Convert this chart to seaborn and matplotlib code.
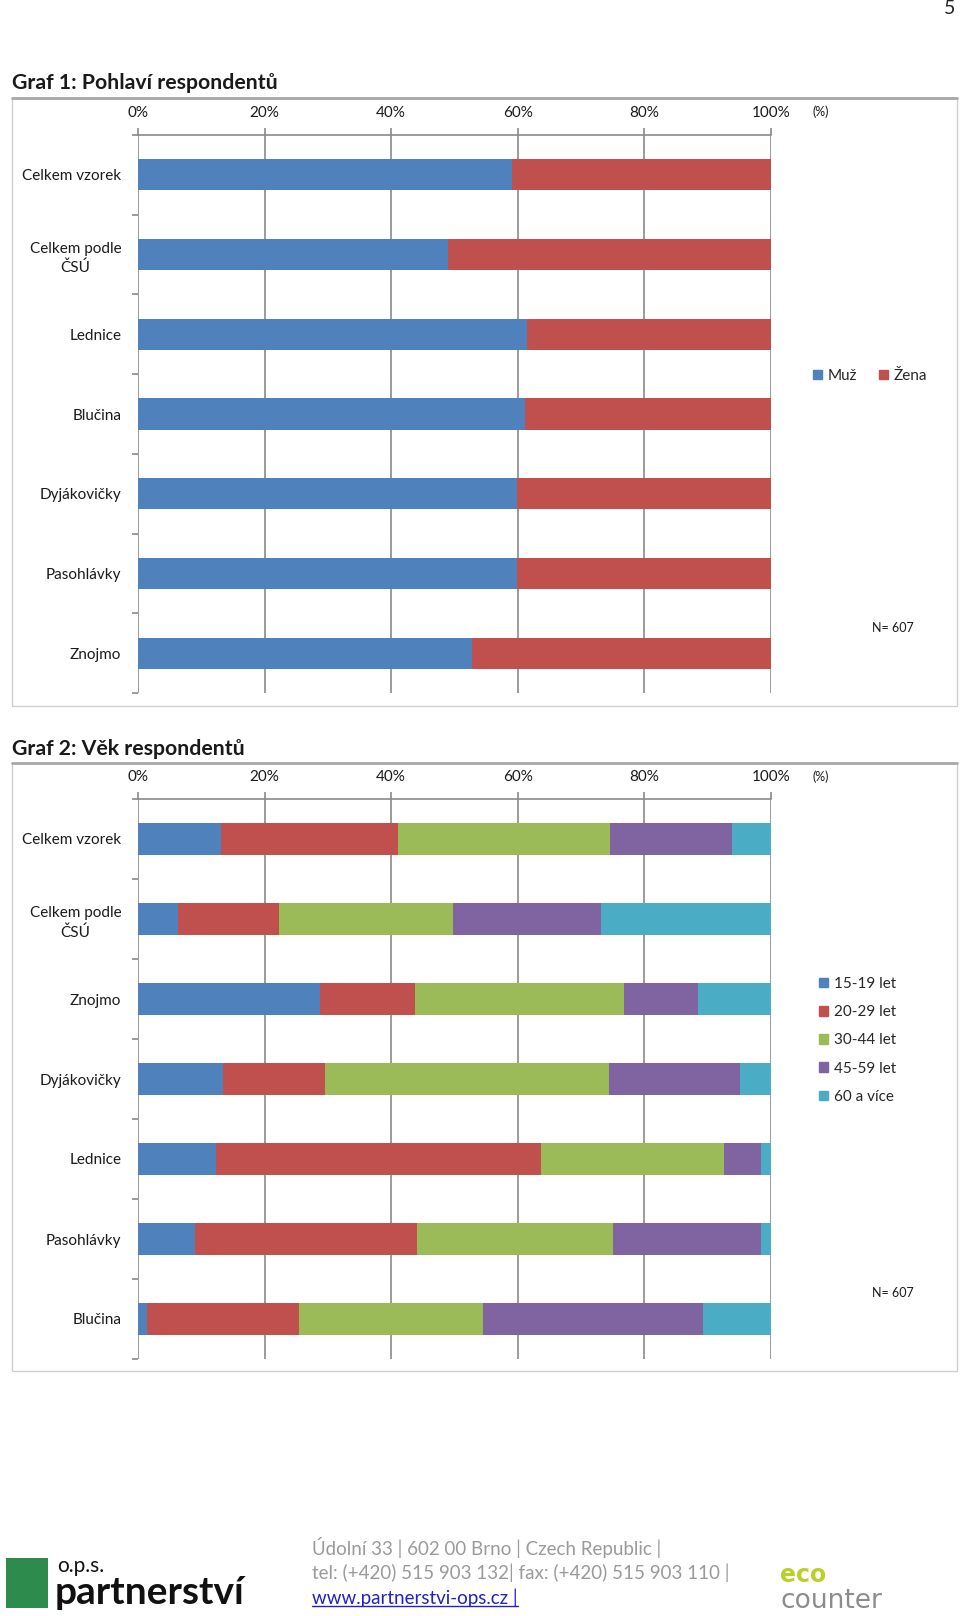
import matplotlib
matplotlib.use("Agg")
import matplotlib.pyplot as plt
import seaborn as sns
import pandas as pd
import numpy as np
from matplotlib.patches import Patch, Rectangle
from matplotlib.lines import Line2D
from matplotlib.ticker import FixedLocator

sns.set_theme(style="white")
plt.rcParams["font.family"] = ["Lato", "DejaVu Sans"]

# ---------------- data ----------------
gender_categories = ["Celkem vzorek", "Celkem podle\nČSÚ", "Lednice", "Blučina",
                     "Dyjákovičky", "Pasohlávky", "Znojmo"]
gender_series = ["Muž", "Žena"]
muz = [59.1, 48.9, 61.5, 61.1, 59.9, 59.9, 52.8]
zena = [40.9, 51.1, 38.5, 38.9, 40.1, 40.1, 47.2]

age_categories = ["Celkem vzorek", "Celkem podle\nČSÚ", "Znojmo", "Dyjákovičky",
                  "Lednice", "Pasohlávky", "Blučina"]
age_series = ["15-19 let", "20-29 let", "30-44 let", "45-59 let", "60 a více"]
age_15_19 = [13.1, 6.3, 28.8, 13.4, 12.4, 9.0, 1.5]
age_20_29 = [28.0, 15.9, 14.9, 16.1, 51.2, 35.1, 24.0]
age_30_44 = [33.4, 27.5, 33.1, 44.9, 29.0, 30.9, 29.0]
age_45_59 = [19.4, 23.4, 11.6, 20.7, 5.8, 23.4, 34.7]
age_60_plus = [6.1, 26.9, 11.6, 4.9, 1.6, 1.6, 10.8]

x_ticks = [0, 20, 40, 60, 80, 100]
x_tick_labels = ["0%", "20%", "40%", "60%", "80%", "100%"]

gender_colors = ["#4F81BD", "#C0504D"]
age_colors = ["#4F81BD", "#C0504D", "#9BBB59", "#8064A2", "#4BACC6"]

GRID = "#8a8a8a"
W, H = 960, 1616


def fx(x):
    return x / W


def fy(y):
    return 1 - y / H


fig = plt.figure(figsize=(W / 100, H / 100), dpi=100)
fig.patch.set_facecolor("white")


def stacked_chart(top, bottom, cats, names, vals, colors):
    ax = fig.add_axes([fx(138), fy(bottom), fx(771) - fx(138), (bottom - top) / H])
    df = pd.DataFrame({n: v for n, v in zip(names, vals)})
    df["cat"] = cats
    cum = df[names].cumsum(axis=1)
    for n, c in reversed(list(zip(names, colors))):
        sns.barplot(x=cum[n].values, y=df["cat"], orient="h", color=c,
                    saturation=1, width=0.39, linewidth=0, ax=ax, zorder=3)
    ax.set_xlim(0, 100)
    ax.set_ylim(len(cats) - 0.5, -0.5)
    ax.set_xlabel("")
    ax.set_ylabel("")
    ax.xaxis.tick_top()
    ax.set_xticks(x_ticks)
    ax.set_xticklabels(x_tick_labels)
    ax.grid(axis="x", color=GRID, lw=1.2, zorder=0)
    ax.grid(axis="y", visible=False)
    ax.set_axisbelow(True)
    for s in ["left", "right", "bottom"]:
        ax.spines[s].set_visible(False)
    ax.spines["top"].set_color(GRID)
    ax.spines["top"].set_linewidth(1.2)
    ax.yaxis.set_minor_locator(FixedLocator(np.arange(-0.5, len(cats), 1)))
    ax.tick_params(axis="y", which="major", length=0, pad=12, labelsize=11,
                   labelcolor="#1a1a1a")
    ax.tick_params(axis="y", which="minor", left=True, length=4, width=1.2,
                   color=GRID)
    ax.tick_params(axis="x", which="major", top=True, bottom=False, length=5,
                   width=1.2, color=GRID, pad=6, labelsize=11,
                   labelcolor="#1a1a1a")
    for lbl in ax.get_yticklabels():
        lbl.set_multialignment("center")
        lbl.set_linespacing(1.45)
    ax.set_facecolor("none")
    return ax


def frame(top, bottom):
    fig.patches.append(Rectangle((fx(12), fy(bottom)), fx(957) - fx(12),
                                 (bottom - top) / H, transform=fig.transFigure,
                                 fill=False, edgecolor="#cfcfcf", lw=1))
    fig.lines.append(Line2D([fx(12), fx(957)], [fy(top), fy(top)],
                            transform=fig.transFigure, color="#a8a8a8", lw=2))


# page number
fig.text(fx(950), fy(9), "5", ha="center", va="center", fontsize=14, color="#222222")

# ---------------- chart 1 ----------------
fig.text(fx(12), fy(83), "Graf 1: Pohlaví respondentů", ha="left", va="center",
         fontsize=15.3, weight="bold", color="#1a1a1a")
frame(98, 706)
ax1 = stacked_chart(135, 693, gender_categories, gender_series, [muz, zena],
                    gender_colors)
fig.text(fx(821), fy(112), "(%)", ha="center", va="center", fontsize=9, color="#1a1a1a")
fig.text(fx(893), fy(628), "N= 607", ha="center", va="center", fontsize=9, color="#1a1a1a")
fig.legend(handles=[Patch(color=c, label=n) for n, c in zip(gender_series, gender_colors)],
           loc="center left", bbox_to_anchor=(fx(813), fy(376)), ncol=2,
           frameon=False, handlelength=0.6, handleheight=0.6, handletextpad=0.35,
           columnspacing=1.45, fontsize=11, borderaxespad=0, borderpad=0)

# ---------------- chart 2 ----------------
fig.text(fx(12), fy(749), "Graf 2: Věk respondentů", ha="left", va="center",
         fontsize=15.3, weight="bold", color="#1a1a1a")
frame(763, 1371)
ax2 = stacked_chart(799, 1359, age_categories, age_series,
                    [age_15_19, age_20_29, age_30_44, age_45_59, age_60_plus],
                    age_colors)
fig.text(fx(821), fy(777), "(%)", ha="center", va="center", fontsize=9, color="#1a1a1a")
fig.text(fx(893), fy(1293), "N= 607", ha="center", va="center", fontsize=9, color="#1a1a1a")
fig.legend(handles=[Patch(color=c, label=n) for n, c in zip(age_series, age_colors)],
           loc="upper left", bbox_to_anchor=(fx(819), fy(977)), ncol=1,
           frameon=False, handlelength=0.6, handleheight=0.6, handletextpad=0.4,
           labelspacing=0.93, fontsize=11, borderaxespad=0, borderpad=0)

# ---------------- footer ----------------
fig.patches.append(Rectangle((fx(6), fy(1608)), fx(48) - fx(6), (1608 - 1558) / H,
                             transform=fig.transFigure, facecolor="#2e8b4e",
                             edgecolor="none"))
fig.text(fx(57), fy(1566), "o.p.s.", ha="left", va="center", fontsize=15, color="#111111")
fig.text(fx(55), fy(1592), "partnerství", ha="left", va="center", fontsize=28,
         weight="bold", color="#111111")

gray = "#9a9a9a"
fig.text(fx(312), fy(1547), "Údolní 33 | 602 00 Brno | Czech Republic |", ha="left",
         va="center", fontsize=13.5, color=gray)
fig.text(fx(312), fy(1573), "tel: (+420) 515 903 132| fax: (+420) 515 903 110 |",
         ha="left", va="center", fontsize=13.5, color=gray)
link = fig.text(fx(312), fy(1598), "www.partnerstvi-ops.cz |", ha="left", va="center",
                fontsize=13.5, color="#2020c8")

fig.text(fx(780), fy(1575), "eco", ha="left", va="center", fontsize=17,
         color="#b8d12a", weight="bold", family="DejaVu Sans")
fig.text(fx(780), fy(1601), "counter", ha="left", va="center", fontsize=19,
         color="#8c8c8c", family="DejaVu Sans")

fig.canvas.draw()
bb = link.get_window_extent().transformed(fig.transFigure.inverted())
fig.lines.append(Line2D([bb.x0, bb.x1], [bb.y0 + 0.0005, bb.y0 + 0.0005],
                        transform=fig.transFigure, color="#2020c8", lw=1))

fig.savefig("out.png", dpi=100, facecolor="white")
